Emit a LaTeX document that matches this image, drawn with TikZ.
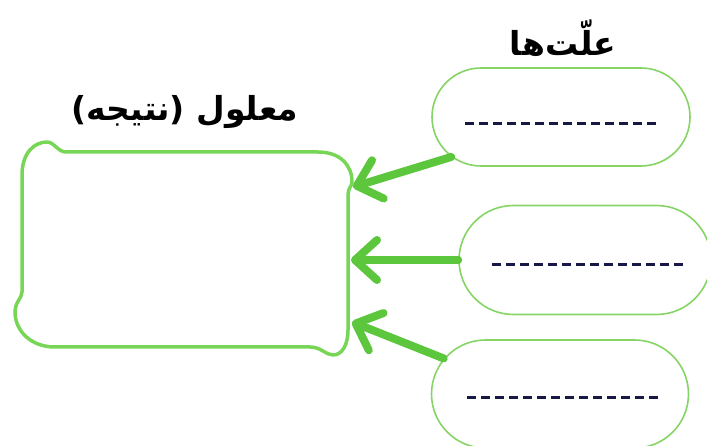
\documentclass[tikz,border=0pt]{standalone}
\usepackage{fontspec}
\usepackage{tikz}
\usetikzlibrary{arrows.meta}
\usetikzlibrary{shapes.misc}
\TeXXeTstate=1
\newfontfamily\arabicfont[Script=Arabic]{DejaVu Sans}
\definecolor{green1}{RGB}{120, 214, 86}
\definecolor{green2}{RGB}{134, 212, 100}
\definecolor{green3}{RGB}{92, 198, 60}
\definecolor{navy1}{RGB}{24, 24, 70}

\begin{document}
\begin{tikzpicture}[x=1pt, y=-1pt,
  title/.style={font=\arabicfont\bfseries\fontsize{33}{38}\selectfont, inner sep=0pt},
  cause/.style={rounded rectangle, draw=green2, line width=1.6pt, inner sep=0pt},
  blank/.style={navy1, line width=3pt, dash pattern=on 8.5pt off 5.5pt},
  causearrow/.style={green3, line width=8pt, line cap=round,
    -{Straight Barb[length=22pt,width=40pt,round]}}]
  \useasboundingbox (0,0) rectangle (707,446);
  % titles
  \node[title] (effecttitle) at (185,112) {\beginR معلول (نتیجه)\endR};
  \node[title] (causetitle) at (563,38) {\beginR علّت‌ها\endR};
  % effect box
  \node[minimum width=334pt, minimum height=206pt, inner sep=0pt] (effect) at (184,250) {};
  \draw[green1, line width=3.5pt, line join=round]
    (22,175) .. controls (22,152) and (35,142) .. (47,142)
    .. controls (54,142) and (58,152) .. (66,152) -- (318,152)
    .. controls (340,152) and (352,165) .. (352,182)
    .. controls (352,186) and (348,188) .. (348,195) -- (348,330)
    .. controls (348,345) and (342,355) .. (333,355)
    .. controls (326,355) and (321,347) .. (310,347) -- (55,347)
    .. controls (30,347) and (15,330) .. (15,312)
    .. controls (15,302) and (22,298) .. (22,292) -- cycle;
  \coordinate (e1) at (353,187);
  \coordinate (e2) at (351,260);
  \coordinate (e3) at (352,322);
  % causes
  \node[cause, minimum width=258pt, minimum height=98pt] (c1) at (561,117) {};
  \node[cause, minimum width=252pt, minimum height=109pt] (c2) at (585,260) {};
  \node[cause, minimum width=257pt, minimum height=108pt] (c3) at (560,394) {};
  \draw[blank] (465,124) -- (658,124);
  \draw[blank] (492,265) -- (687,265);
  \draw[blank] (467,397) -- (660,397);
  \foreach \from/\to in {c1.200/e1, c2.west/e2, c3.163/e3}
   \draw[causearrow] (\from) -- (\to);
\end{tikzpicture}
\end{document}
